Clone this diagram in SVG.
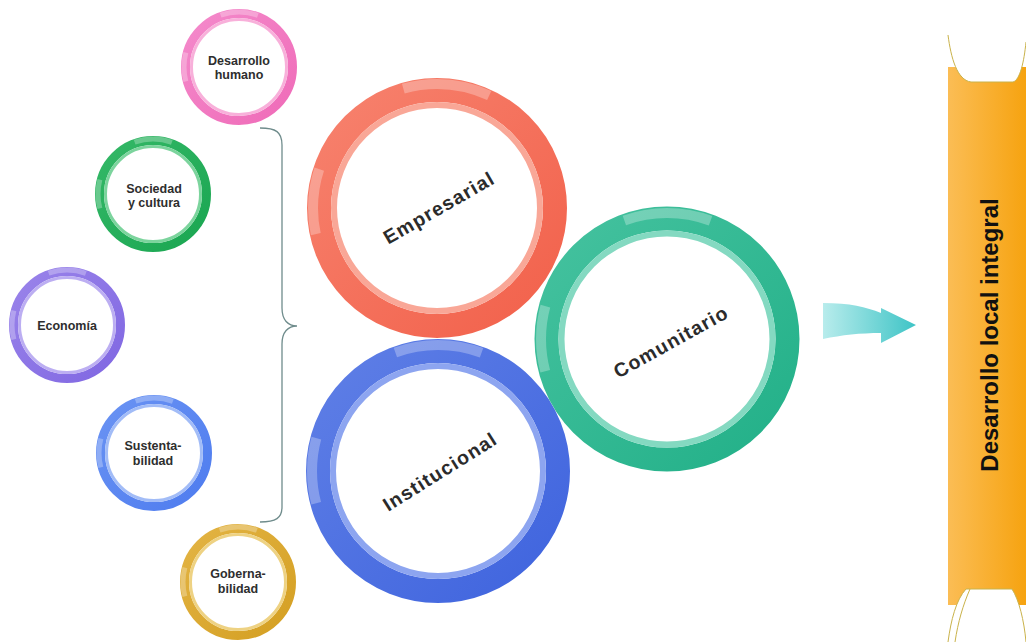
<svg xmlns="http://www.w3.org/2000/svg" width="1026" height="642" viewBox="0 0 1026 642">
<style>
.sl{font-family:"Liberation Sans",Arial,sans-serif;font-weight:bold;font-size:12.5px;fill:#2e2e2e;text-anchor:middle}
.bl{font-family:"Liberation Sans",Arial,sans-serif;font-weight:bold;font-size:19.5px;fill:#2b2b2b;text-anchor:middle;letter-spacing:1.2px}
.tl{font-family:"Liberation Sans",Arial,sans-serif;font-weight:bold;font-size:24px;fill:#111;text-anchor:middle}
.in{fill:#fff}
.hlB{fill:none;stroke:#fff;stroke-opacity:.28;stroke-width:10;stroke-dasharray:0 363 66 121 88 1000}
.hlS{fill:none;stroke:#fff;stroke-opacity:.28;stroke-width:5;stroke-dasharray:0 158 29 53 38 1000}
.br{fill:none;stroke:#6f8c8c;stroke-width:1.3}
.edge{fill:none;stroke:#c9b24a;stroke-width:1}
</style>
<defs>
<linearGradient id="gRed" x1="0" y1="0" x2="1" y2="1"><stop offset="0" stop-color="#f7826e"/><stop offset="1" stop-color="#f2614b"/></linearGradient>
<linearGradient id="gGrn" x1="0" y1="0" x2="1" y2="1"><stop offset="0" stop-color="#45c29f"/><stop offset="1" stop-color="#22b088"/></linearGradient>
<linearGradient id="gBlu" x1="0" y1="0" x2="1" y2="1"><stop offset="0" stop-color="#5f7fe6"/><stop offset="1" stop-color="#3f64de"/></linearGradient>
<linearGradient id="gPnk" x1="0" y1="0" x2="1" y2="1"><stop offset="0" stop-color="#f48acb"/><stop offset="1" stop-color="#ef6bb8"/></linearGradient>
<linearGradient id="gSg" x1="0" y1="0" x2="1" y2="1"><stop offset="0" stop-color="#34b867"/><stop offset="1" stop-color="#1aa651"/></linearGradient>
<linearGradient id="gPur" x1="0" y1="0" x2="1" y2="1"><stop offset="0" stop-color="#9a84ea"/><stop offset="1" stop-color="#8067e2"/></linearGradient>
<linearGradient id="gSb" x1="0" y1="0" x2="1" y2="1"><stop offset="0" stop-color="#6a93f3"/><stop offset="1" stop-color="#4e7cef"/></linearGradient>
<linearGradient id="gGold" x1="0" y1="0" x2="1" y2="1"><stop offset="0" stop-color="#e3b444"/><stop offset="1" stop-color="#d49f22"/></linearGradient>
<linearGradient id="gArr" x1="0" y1="0" x2="1" y2="0"><stop offset="0" stop-color="#b8ecec"/><stop offset="1" stop-color="#3ec4c6"/></linearGradient>
<linearGradient id="gBar" x1="0" y1="0" x2="1" y2="0"><stop offset="0" stop-color="#fbbd55"/><stop offset="1" stop-color="#f6a310"/></linearGradient>
</defs>
<rect width="1026" height="642" fill="#fff"/>

<g id="desarrollo-humano">
<circle class="in" cx="239" cy="67" r="46"/>
<circle cx="239" cy="67" r="53.5" fill="none" stroke="url(#gPnk)" stroke-width="9"/>
<circle cx="239" cy="67" r="47.5" fill="none" stroke="#f8b0da" stroke-width="3"/>
<circle class="hlS" cx="239" cy="67" r="55"/>
<text class="sl" x="239" y="65">Desarrollo</text>
<text class="sl" x="239" y="79">humano</text>
</g>

<g id="sociedad-cultura">
<circle class="in" cx="153" cy="194" r="46"/>
<circle cx="153" cy="194" r="53.5" fill="none" stroke="url(#gSg)" stroke-width="9"/>
<circle cx="153" cy="194" r="47.5" fill="none" stroke="#7cd49d" stroke-width="3"/>
<circle class="hlS" cx="153" cy="194" r="55"/>
<text class="sl" x="154" y="193">Sociedad</text>
<text class="sl" x="154" y="207">y cultura</text>
</g>

<g id="economia">
<circle class="in" cx="67" cy="325" r="46"/>
<circle cx="67" cy="325" r="53.5" fill="none" stroke="url(#gPur)" stroke-width="9"/>
<circle cx="67" cy="325" r="47.5" fill="none" stroke="#bcaef2" stroke-width="3"/>
<circle class="hlS" cx="67" cy="325" r="55"/>
<text class="sl" x="67" y="330">Economía</text>
</g>

<g id="sustentabilidad">
<circle class="in" cx="154" cy="453" r="46"/>
<circle cx="154" cy="453" r="53.5" fill="none" stroke="url(#gSb)" stroke-width="9"/>
<circle cx="154" cy="453" r="47.5" fill="none" stroke="#a2bcf7" stroke-width="3"/>
<circle class="hlS" cx="154" cy="453" r="55"/>
<text class="sl" x="153" y="450">Sustenta-</text>
<text class="sl" x="153" y="465">bilidad</text>
</g>

<g id="gobernabilidad">
<circle class="in" cx="238" cy="582" r="46"/>
<circle cx="238" cy="582" r="53.5" fill="none" stroke="url(#gGold)" stroke-width="9"/>
<circle cx="238" cy="582" r="47.5" fill="none" stroke="#eed283" stroke-width="3"/>
<circle class="hlS" cx="238" cy="582" r="55"/>
<text class="sl" x="238" y="578">Goberna-</text>
<text class="sl" x="238" y="593">bilidad</text>
</g>

<g id="empresarial">
<circle class="in" cx="437" cy="208" r="102"/>
<circle cx="437" cy="208" r="118" fill="none" stroke="url(#gRed)" stroke-width="24"/>
<circle cx="437" cy="208" r="103" fill="none" stroke="#f9a797" stroke-width="6"/>
<circle class="hlB" cx="437" cy="208" r="124"/>
<g transform="translate(438,208) rotate(-30)"><text class="bl" x="1" y="7">Empresarial</text></g>
</g>

<g id="institucional">
<circle class="in" cx="438" cy="471" r="102"/>
<circle cx="438" cy="471" r="120" fill="none" stroke="url(#gBlu)" stroke-width="24"/>
<circle cx="438" cy="471" r="105" fill="none" stroke="#8da5f0" stroke-width="6"/>
<circle class="hlB" cx="438" cy="471" r="126"/>
<g transform="translate(439,472) rotate(-32)"><text class="bl" x="1" y="7">Institucional</text></g>
</g>

<g id="comunitario">
<circle class="in" cx="667" cy="339" r="102"/>
<circle cx="667" cy="339" r="120.5" fill="none" stroke="url(#gGrn)" stroke-width="24"/>
<circle cx="667" cy="339" r="105.5" fill="none" stroke="#84d9c1" stroke-width="6"/>
<circle class="hlB" cx="667" cy="339" r="126"/>
<g transform="translate(670,342) rotate(-29)"><text class="bl" x="1" y="7">Comunitario</text></g>
</g>

<g id="desarrollo-local-integral">
<rect x="948" y="67" width="78" height="538" fill="url(#gBar)"/>
<path fill="#fff" d="M948,35 C951,58 957,80 971,82 L1013,82 C1020,80 1024,62 1026,42 L1026,60 L1026,30 L948,30 Z"/>
<path class="edge" d="M948,35 C951,58 957,80 971,82 L1013,82 C1020,80 1024,62 1026,42"/>
<path fill="#fff" d="M966,589 L1012,589 C1019,600 1024,620 1026,642 L948,642 C951,620 956,600 966,589 Z"/>
<path class="edge" d="M948,642 C951,620 956,600 966,589 L1012,589 C1019,600 1024,620 1026,642"/>
<path class="edge" d="M970,589 C963,605 958,622 955,642"/>
<g transform="translate(990,335) rotate(-90)"><text class="tl" x="0" y="8">Desarrollo local integral</text></g>
</g>

<g id="connectors">
<path class="br" d="M260,128 C276,128 282,132 282,145 L282,308 C282,320 288,326 297,326 C288,326 282,332 282,344 L282,507 C282,518 276,522 260,522"/>
<path d="M823,303 C850,303 866,307 881,313 L881,308 L916,325 L881,343 L881,333 C860,333 842,335 823,339 Z" fill="url(#gArr)"/>
</g>
</svg>
